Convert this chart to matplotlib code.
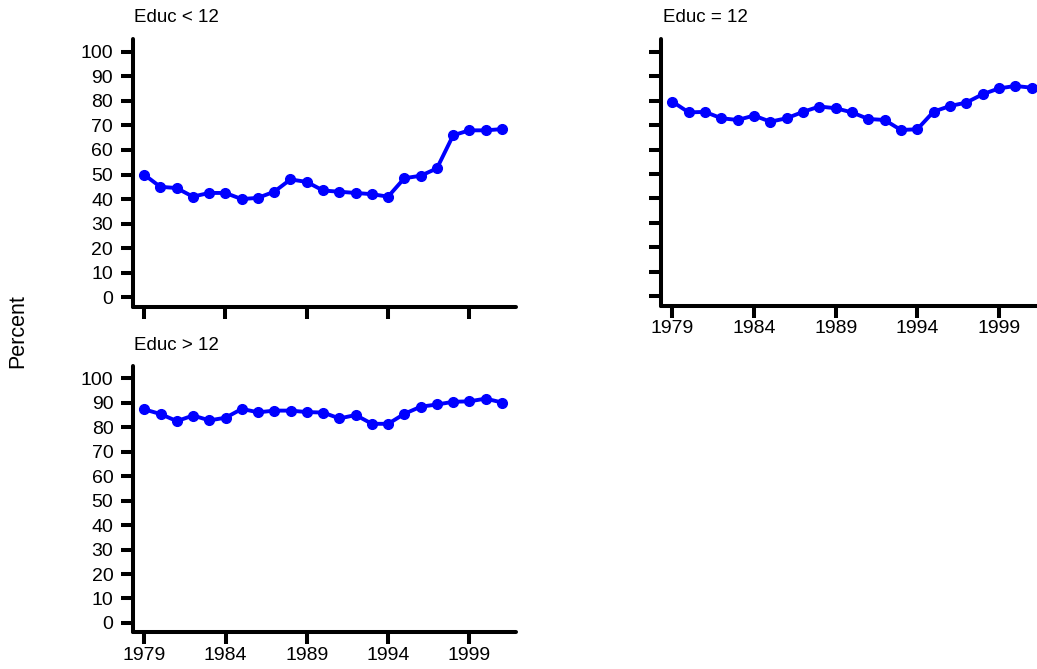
import matplotlib
matplotlib.use("Agg")
import matplotlib.pyplot as plt

plt.rcParams['font.family'] = ['Liberation Sans', 'DejaVu Sans']

years = list(range(1979, 2002))
educ_lt12 = [50, 45, 44.5, 41, 42.5, 42.5, 40, 40.5, 43, 48, 47, 43.5, 43, 42.5, 42, 41,
             48.5, 49.5, 52.5, 66, 68, 68, 68.5]
educ_eq12 = [79.6, 75.2, 75.4, 72.8, 72.1, 73.9, 71.4, 72.8, 75.4, 77.6, 76.9, 75.2, 72.5,
             72.1, 68, 68.3, 75.5, 77.8, 79.2, 82.6, 85, 86, 85.3]
educ_gt12 = [87.3, 85.4, 82.5, 84.8, 82.8, 83.9, 87.5, 86.1, 86.8, 86.8, 86.2, 86, 83.6,
             85, 81.4, 81.4, 85.5, 88.4, 89.3, 90.4, 90.6, 91.7, 90.1]
titles = ["Educ < 12", "Educ = 12", "Educ > 12"]
xticks = [1979, 1984, 1989, 1994, 1999]
yticks = list(range(0, 101, 10))

W, H = 1037, 669
fig = plt.figure(figsize=(W / 100, H / 100), dpi=100)

def px_rect(left, top, right, bottom):
    return [left / W, 1 - bottom / H, (right - left) / W, (bottom - top) / H]

panels = [
    (educ_lt12, px_rect(132.7, 39, 516, 306.7), True, False, (134, 17)),
    (educ_eq12, px_rect(661, 39, 1045.6, 305.7), False, True, (662.7, 17)),
    (educ_gt12, px_rect(133, 365.6, 516, 632.3), True, True, (134, 345)),
]

blue = '#0000FF'
for (vals, rect, ylab, xlab, tpos), title in zip(panels, titles):
    ax = fig.add_axes(rect)
    ax.plot(years, vals, color=blue, lw=2.8, marker='o', ms=7,
            solid_capstyle='round', solid_joinstyle='round')
    ax.set_xlim(1978.305, 2001.86)
    ax.set_ylim(-3.83, 105.2)
    ax.set_xticks(xticks)
    ax.set_yticks(yticks)
    for s in ['top', 'right']:
        ax.spines[s].set_visible(False)
    for s in ['left', 'bottom']:
        ax.spines[s].set_linewidth(2.9)
        ax.spines[s].set_capstyle('round')
    ax.tick_params(axis='both', width=2.9, length=8.6, labelsize=14, color='black')
    ax.tick_params(axis='x', pad=2)
    ax.tick_params(axis='y', pad=5.5)
    if not ylab:
        ax.set_yticklabels([])
    if not xlab:
        ax.set_xticklabels([])
    fig.text(tpos[0] / W, 1 - tpos[1] / H, title, ha='left', va='center', fontsize=13.5)

fig.text(17.5 / W, 1 - 331 / H, "Percent", rotation=90, ha='center', va='center', fontsize=15.5)

fig.savefig("out.png", dpi=100)
